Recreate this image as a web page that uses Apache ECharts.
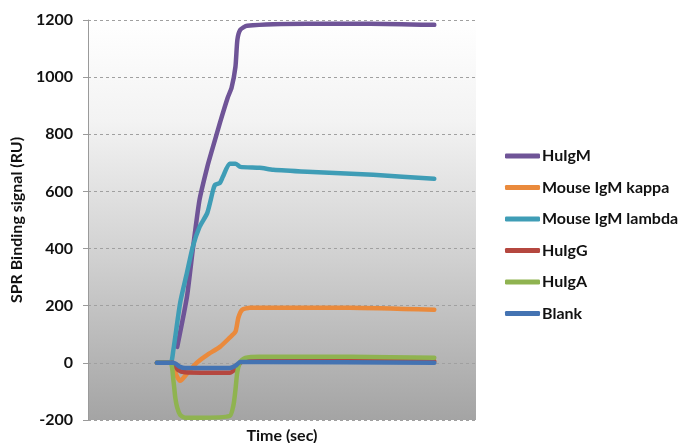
<!DOCTYPE html>
<html>
<head>
<meta charset="utf-8">
<script src="https://cdn.jsdelivr.net/npm/echarts@6/dist/echarts.min.js"></script>
<style>
  html, body { margin: 0; padding: 0; background: #ffffff; }
  #chart { width: 683px; height: 443px; }
</style>
</head>
<body>
<div id="chart"></div>
<script>
// SPR sensorgram: binding response (RU) over time for each analyte
const seriesNames = ['HuIgM', 'Mouse IgM kappa', 'Mouse IgM lambda', 'HuIgG', 'HuIgA', 'Blank'];
const seriesColors = ['#6f5497', '#ea8a3c', '#3f9db6', '#b5473f', '#8fb350', '#4473b2'];

const huIgMTime = [92, 102, 108, 115, 123, 128, 136, 144, 148, 152, 154, 157, 164, 226, 291, 357];
const huIgMValues = [56, 231, 396, 571, 686, 746, 840, 928, 963, 1036, 1131, 1166, 1180, 1187, 1187, 1183];

const kappaTime = [71, 87, 91, 95, 102, 112, 123, 136, 146, 152, 155, 159, 167, 270, 357];
const kappaValues = [0, 0, -42, -63, -38, 0, 28, 56, 88, 109, 158, 186, 193, 193, 186];

const lambdaTime = [71, 85, 88, 95, 102, 108, 115, 123, 129, 131, 136, 139, 146, 152, 157, 177, 191, 226, 294, 357];
const lambdaValues = [0, 0, 45, 210, 315, 406, 476, 525, 605, 623, 630, 651, 697, 697, 686, 683, 676, 669, 658, 644];

const huIgGTime = [71, 87, 93, 100, 146, 153, 158, 177, 357];
const huIgGValues = [0, 0, -25, -33, -35, -18, 3, 7, 6];

const huIgATime = [71, 85, 88, 90, 92, 95, 100, 115, 146, 150, 152, 154, 157, 162, 177, 270, 357];
const huIgAValues = [0, 0, -60, -122, -157, -182, -192, -192, -186, -147, -95, -31, 4, 17, 21, 21, 18];

const blankTime = [71, 88, 95, 100, 146, 152, 157, 177, 357];
const blankValues = [0, 0, -14, -18, -18, -10, 3, 3, 0];

const yTicks = [-200, 0, 200, 400, 600, 800, 1000, 1200];

const timeSets = [huIgMTime, kappaTime, lambdaTime, huIgGTime, huIgATime, blankTime];
const valueSets = [huIgMValues, kappaValues, lambdaValues, huIgGValues, huIgAValues, blankValues];

const pair = (ts, vs) => ts.map((t, i) => [t, vs[i]]);

const fontFamily = 'Lato, "DejaVu Sans", sans-serif';

const chart = echarts.init(document.getElementById('chart'), null, { renderer: 'canvas' });

chart.setOption({
  animation: false,
  backgroundColor: '#ffffff',
  grid: {
    left: 88, right: 207, top: 20, bottom: 23,
    containLabel: false,
    outerBoundsMode: 'none',
    show: true,
    borderWidth: 0,
    backgroundColor: new echarts.graphic.LinearGradient(0, 0, 0, 1, [
      { offset: 0, color: '#ffffff' },
      { offset: 0.25, color: '#f3f3f3' },
      { offset: 0.6, color: '#d0d0d0' },
      { offset: 1, color: '#a4a4a4' }
    ])
  },
  legend: {
    orient: 'vertical',
    left: 500,
    top: 142,
    itemWidth: 35,
    itemHeight: 5,
    itemGap: 13.5,
    icon: 'roundRect',
    data: seriesNames,
    textStyle: {
      fontFamily: fontFamily,
      fontWeight: 'bold',
      fontSize: 16,
      color: '#111111',
      lineHeight: 18,
      padding: [0, 0, 0, -3]
    }
  },
  xAxis: {
    type: 'value',
    min: 0,
    max: 400,
    name: 'Time (sec)',
    nameLocation: 'middle',
    nameGap: 8,
    nameTextStyle: { fontFamily: fontFamily, fontWeight: 'bold', fontSize: 16, color: '#111111' },
    axisLine: { show: false },
    axisTick: { show: false },
    axisLabel: { show: false },
    splitLine: { show: false }
  },
  yAxis: {
    type: 'value',
    min: yTicks[0],
    max: yTicks[yTicks.length - 1],
    interval: 200,
    name: 'SPR Binding signal (RU)',
    nameLocation: 'middle',
    nameGap: 60,
    nameTextStyle: { fontFamily: fontFamily, fontWeight: 'bold', fontSize: 16, color: '#111111' },
    axisLine: { show: true, lineStyle: { color: '#9a9a9a', width: 1 } },
    axisTick: { show: true, inside: false, length: 5, lineStyle: { color: '#9a9a9a' } },
    axisLabel: {
      fontFamily: fontFamily, fontWeight: 'bold', fontSize: 16, color: '#111111', margin: 15,
      formatter: (v) => String(v)
    },
    splitLine: { show: true, lineStyle: { color: '#a0a0a0', type: [3, 3], width: 1 } }
  },
  series: seriesNames.map((name, i) => ({
    name: name,
    type: 'line',
    data: pair(timeSets[i], valueSets[i]),
    showSymbol: false,
    smooth: 0.2,
    color: seriesColors[i],
    lineStyle: { width: 4.5, color: seriesColors[i], cap: 'round', join: 'round' },
    z: 2 + i
  }))
});
</script>
</body>
</html>
